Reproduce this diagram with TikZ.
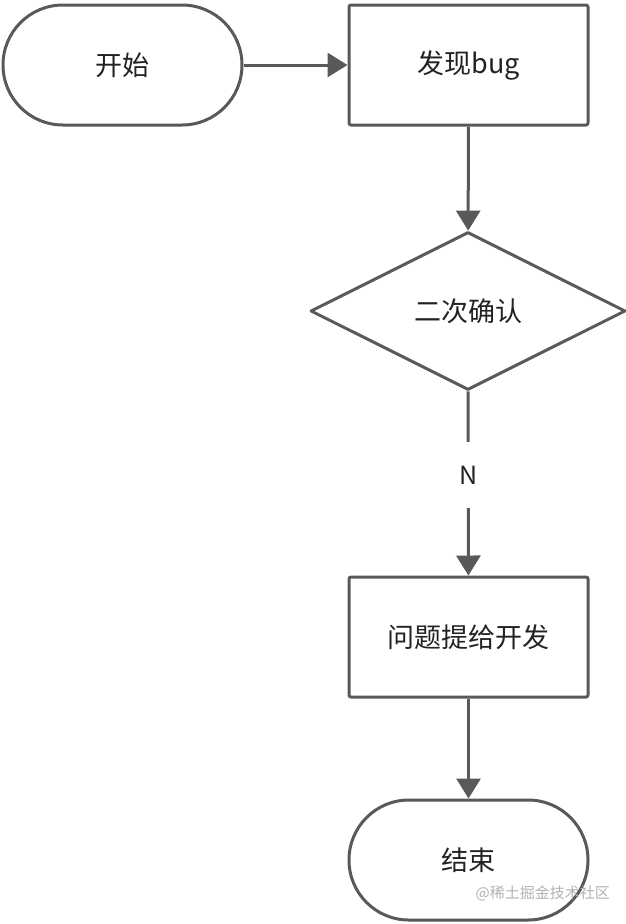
\documentclass[tikz,border=0pt]{standalone}
\usepackage{fontspec}
\newfontfamily\cjk{Noto Sans CJK SC}
\usetikzlibrary{shapes.geometric,arrows.meta}
\definecolor{ln}{HTML}{595959}
\definecolor{tx}{HTML}{222222}
\tikzset{
  base/.style={draw=ln, line width=3pt, line join=round, text=tx, font=\cjk\fontsize{27}{30}\selectfont, inner sep=0pt},
  term/.style={base, rectangle, rounded corners=59.9pt, minimum width=239pt, minimum height=120pt},
  proc/.style={base, rectangle, rounded corners=2pt, minimum width=239pt, minimum height=120pt},
  decide/.style={base, diamond, minimum width=315pt, minimum height=158pt, aspect=2},
  conn/.style={draw=ln, line width=3pt, -{Triangle[width=24pt,length=20pt]}},
  lbl/.style={fill=white, text=tx, font=\cjk\fontsize{25}{28}\selectfont, minimum height=66pt, minimum width=30pt, inner sep=0pt},
  wmark/.style={text=black!30, font=\cjk\fontsize{15}{18}\selectfont, inner sep=0pt}
}
\begin{document}
\begin{tikzpicture}[x=1pt,y=-1pt]
\useasboundingbox (0,0) rectangle (625,924);
\node[term] (start) at (122.5,65) {开始};
\node[proc] (find) at (468.5,65) {发现bug};
\node[decide] (check) at (468,311) {二次确认};
\node[proc] (report) at (468.5,637) {问题提给开发};
\node[term] (end) at (468.5,860) {结束};
\draw[conn] (start) -- (find);
\draw[conn] (find) -- (check);
\draw[conn] (check) -- (report) node[lbl, pos=0.455] (n) {N};
\draw[conn] (report) -- (end);
\node[wmark, anchor=east] (wm) at (610,893) {@稀土掘金技术社区};
\end{tikzpicture}
\end{document}
